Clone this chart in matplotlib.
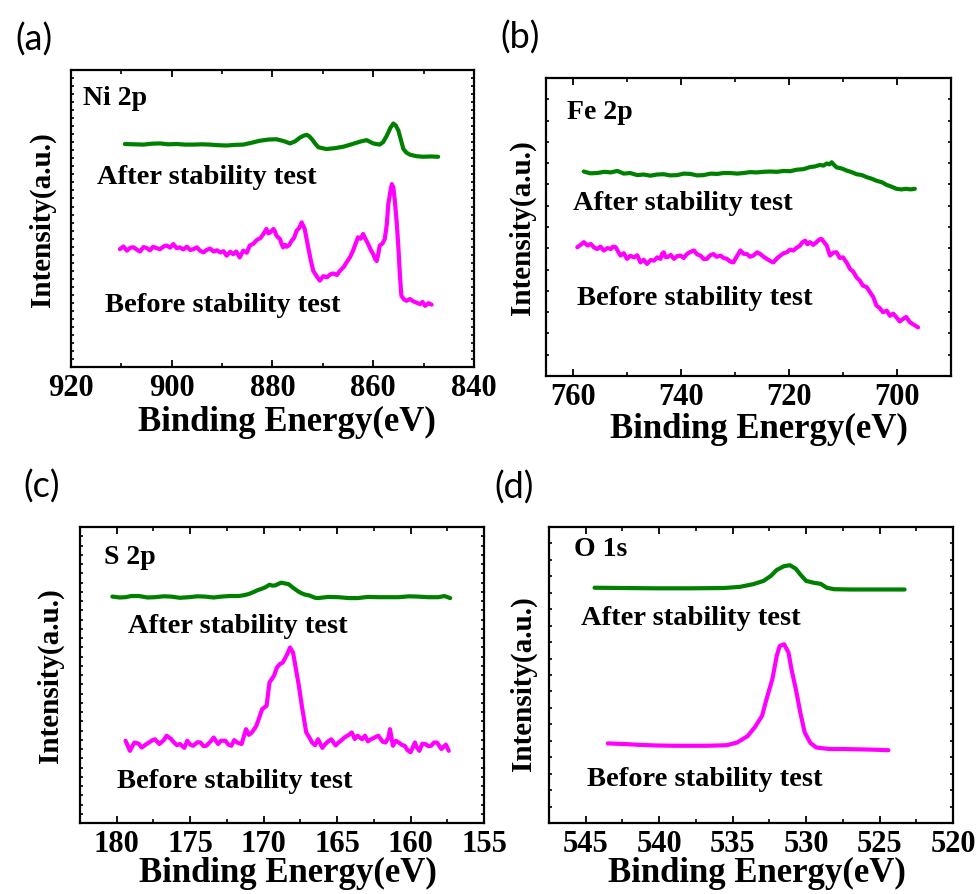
import numpy as np
import matplotlib
matplotlib.use("Agg")
import matplotlib.pyplot as plt
from matplotlib.ticker import MultipleLocator, FixedLocator

# ---------------- data ----------------
# (a) Ni 2p
ni_after_E = [909.3, 907.5, 905.6, 904.0, 902.3, 900.7, 899.0, 897.4, 895.7, 894.0, 892.4, 890.8, 889.1, 887.5,
              885.8, 884.2, 882.5, 880.8, 879.2, 877.8, 876.5, 875.5, 874.5, 873.8, 873.2, 872.7, 872.2, 871.5,
              870.9, 869.3, 867.6, 865.9, 864.3, 862.6, 861.3, 860.0, 858.7, 858.0, 857.3, 856.6, 856.0, 855.5,
              855.0, 854.5, 854.0, 853.4, 852.7, 851.4, 850.1, 848.6, 847.1]
ni_after_I = [75.1, 75.0, 74.9, 75.2, 75.3, 75.0, 75.1, 74.9, 74.9, 75.0, 74.9, 74.7, 74.6, 74.8,
              74.9, 75.5, 76.2, 76.6, 76.7, 76.1, 75.3, 76.0, 77.3, 77.9, 78.2, 77.7, 76.8, 75.2,
              74.0, 73.4, 73.7, 74.2, 75.0, 75.9, 76.4, 75.3, 74.9, 75.8, 77.9, 80.5, 82.0, 81.3,
              79.6, 76.5, 73.4, 72.2, 71.5, 71.0, 70.8, 70.9, 70.8]
ni_before_E = [910.3, 909.6, 908.9, 908.2, 907.6, 906.9, 906.3, 905.6, 905.0, 904.3, 903.7, 903.0, 902.3, 901.6,
               901.0, 900.3, 899.7, 899.0, 898.4, 897.7, 897.0, 896.3, 895.7, 895.0, 894.4, 893.7, 893.1, 892.4,
               891.7, 891.0, 890.4, 889.7, 889.1, 888.4, 887.8, 887.2, 886.5, 886.1, 885.8, 885.1, 884.5, 883.8,
               883.1, 882.4, 881.8, 881.2, 880.8, 880.5, 879.8, 879.5, 879.2, 878.5, 878.2, 877.9, 877.5, 877.2,
               876.7, 876.2, 875.7, 875.2, 874.7, 874.2, 873.6, 872.9, 872.4, 871.9, 871.2, 870.6, 869.9, 869.2,
               868.5, 867.9, 867.2, 866.6, 865.9, 865.3, 864.6, 864.0, 863.5, 863.0, 862.5, 862.0, 861.5, 861.0,
               860.5, 860.0, 859.6, 859.3, 859.0, 858.7, 858.2, 857.7, 857.3, 857.0, 856.6, 856.3, 856.0, 855.7,
               855.3, 855.0, 854.7, 854.4, 853.9, 853.4, 852.7, 852.0, 851.3, 850.7, 850.2, 849.7, 849.0, 848.4]
ni_before_I = [39.7, 40.6, 39.2, 40.2, 40.3, 39.5, 38.9, 40.4, 40.1, 39.3, 40.5, 40.0, 39.7, 40.6,
               40.9, 40.2, 41.4, 40.0, 40.3, 39.6, 40.5, 39.4, 39.7, 40.3, 39.2, 38.6, 39.4, 39.9,
               38.9, 39.3, 38.6, 39.0, 37.5, 38.8, 38.0, 38.9, 36.9, 38.2, 39.2, 38.5, 40.9, 41.5,
               42.8, 43.4, 44.8, 46.5, 45.0, 45.3, 46.5, 45.6, 44.2, 43.1, 41.5, 40.3, 41.2, 40.5,
               41.0, 42.5, 43.5, 45.9, 46.8, 48.7, 46.5, 40.3, 36.0, 32.4, 30.5, 29.1, 30.6, 30.2,
               31.2, 31.5, 31.0, 32.4, 33.6, 35.2, 37.0, 39.2, 41.5, 43.7, 43.2, 44.8, 43.0, 41.4,
               39.5, 38.0, 36.3, 35.7, 38.0, 40.9, 41.5, 43.1, 48.0, 54.9, 59.0, 61.6, 60.5, 56.0,
               48.0, 40.3, 31.0, 24.0, 22.8, 22.3, 22.9, 22.1, 21.6, 21.2, 21.9, 20.6, 21.5, 21.0]

# (b) Fe 2p
fe_after_E = [758.0, 756.8, 755.5, 754.2, 753.0, 751.8, 750.6, 749.4, 748.1, 746.9, 745.7, 744.4, 743.2, 742.0,
              740.7, 739.5, 738.3, 737.0, 735.8, 734.5, 733.3, 732.1, 730.9, 729.6, 728.4, 727.2, 726.0, 724.7,
              723.5, 722.2, 721.0, 719.8, 718.6, 717.3, 716.1, 715.2, 714.3, 713.6, 713.0, 712.5, 712.1, 711.6,
              711.2, 710.2, 709.3, 708.4, 707.5, 706.5, 705.6, 704.7, 703.8, 702.8, 701.9, 701.0, 700.1, 699.2,
              698.3, 697.5, 696.7]
fe_after_I = [68.6, 68.0, 68.1, 68.5, 68.3, 68.8, 67.9, 68.1, 67.4, 67.6, 67.2, 67.6, 67.7, 67.3,
              67.4, 67.9, 67.8, 67.3, 67.4, 67.9, 67.8, 68.1, 68.1, 67.9, 68.1, 68.4, 68.3, 68.5,
              68.6, 68.5, 68.8, 68.7, 69.2, 69.4, 70.1, 70.3, 70.8, 70.6, 71.3, 71.0, 71.7, 70.7,
              70.0, 69.6, 68.9, 68.4, 67.7, 67.4, 66.7, 66.2, 65.5, 65.0, 64.1, 63.5, 62.8, 62.6,
              62.8, 62.6, 62.8]
fe_before_E = [759.2, 758.6, 758.0, 757.3, 756.7, 756.1, 755.5, 754.9, 754.3, 753.6, 753.0, 752.6, 752.1, 751.6,
               751.2, 750.6, 750.0, 749.4, 748.7, 748.1, 747.5, 746.9, 746.3, 745.6, 745.0, 744.4, 743.8, 743.5,
               743.2, 742.9, 742.6, 741.9, 741.3, 740.7, 740.1, 739.5, 738.9, 738.3, 737.6, 737.0, 736.4, 735.8,
               735.2, 734.6, 734.0, 733.4, 732.7, 732.1, 731.5, 730.9, 730.3, 729.7, 729.0, 728.4, 727.8, 727.2,
               726.6, 725.9, 725.3, 724.7, 724.1, 723.5, 722.9, 722.2, 721.6, 721.0, 720.4, 719.8, 719.2, 718.6,
               718.0, 717.5, 717.0, 716.6, 716.1, 715.5, 714.9, 714.4, 714.0, 713.5, 713.0, 712.7, 712.4, 711.8,
               711.2, 710.6, 710.0, 709.3, 708.7, 708.1, 707.5, 706.9, 706.3, 705.6, 705.0, 704.4, 703.8, 703.2,
               702.6, 701.9, 701.3, 700.7, 700.1, 699.5, 698.9, 698.3, 697.6, 696.9, 696.1]
fe_before_I = [43.2, 44.0, 44.9, 43.8, 44.3, 43.1, 42.6, 43.4, 42.1, 42.9, 42.6, 43.4, 43.2, 41.6,
               40.4, 41.2, 39.3, 40.3, 39.8, 40.5, 38.1, 39.0, 37.6, 38.9, 38.7, 39.8, 39.3, 41.0,
               41.5, 40.0, 39.8, 40.6, 39.3, 40.2, 40.4, 39.6, 40.9, 41.6, 42.1, 40.8, 40.4, 39.2,
               39.3, 40.5, 40.9, 40.0, 40.4, 39.6, 39.3, 38.4, 38.1, 40.0, 42.1, 41.0, 40.9, 40.0,
               40.4, 41.5, 40.9, 40.0, 39.3, 38.6, 38.1, 39.5, 40.4, 41.2, 41.5, 42.4, 42.1, 43.0,
               43.7, 44.9, 45.4, 44.2, 44.9, 44.0, 44.9, 45.8, 46.0, 44.9, 43.7, 42.0, 40.4, 41.4,
               41.5, 39.6, 39.8, 38.0, 35.9, 35.0, 33.1, 32.0, 30.3, 29.8, 28.1, 26.5, 23.6, 22.8,
               21.4, 21.9, 20.2, 20.9, 19.7, 18.3, 19.1, 19.8, 18.0, 17.2, 16.3]

# (c) S 2p
s_after_E = [180.3, 179.8, 179.4, 179.0, 178.5, 177.9, 177.4, 176.8, 176.3, 175.7, 175.1, 174.5, 174.0, 173.4,
             172.9, 172.3, 171.7, 171.3, 171.0, 170.7, 170.4, 170.1, 169.9, 169.6, 169.4, 169.2, 169.0, 168.8,
             168.5, 168.3, 168.0, 167.8, 167.6, 167.4, 167.2, 166.9, 166.7, 166.5, 166.3, 165.6, 164.9, 164.2,
             163.6, 162.9, 162.2, 161.5, 160.8, 160.1, 159.5, 158.8, 158.1, 157.7, 157.3]
s_after_I = [76.5, 76.2, 76.3, 76.7, 76.7, 76.2, 76.3, 76.6, 76.5, 76.1, 76.3, 76.6, 76.5, 76.2,
             76.5, 76.7, 76.7, 77.0, 77.4, 78.0, 78.7, 79.2, 79.6, 80.5, 80.2, 80.3, 80.8, 81.2,
             80.9, 80.7, 79.5, 78.8, 78.1, 77.6, 77.2, 76.9, 76.5, 76.1, 76.0, 76.4, 76.3, 76.0,
             76.0, 76.4, 76.3, 76.3, 76.3, 76.6, 76.5, 76.3, 76.3, 76.7, 76.0]
s_before_E = [179.4, 179.1, 178.8, 178.5, 178.3, 178.0, 177.8, 177.6, 177.4, 177.1, 176.8, 176.6, 176.3, 176.1,
              175.9, 175.7, 175.4, 175.2, 175.0, 174.8, 174.5, 174.3, 174.1, 173.9, 173.6, 173.4, 173.1, 172.9,
              172.6, 172.4, 172.2, 172.0, 171.8, 171.5, 171.2, 171.0, 170.8, 170.5, 170.3, 170.1, 169.8, 169.6,
              169.3, 169.1, 168.9, 168.7, 168.4, 168.2, 168.0, 167.8, 167.6, 167.4, 167.1, 166.9, 166.7, 166.5,
              166.3, 166.0, 165.8, 165.6, 165.4, 165.1, 164.9, 164.7, 164.5, 164.2, 164.0, 163.8, 163.6, 163.3,
              163.1, 162.9, 162.7, 162.4, 162.2, 161.9, 161.7, 161.5, 161.4, 161.2, 161.0, 160.8, 160.6, 160.4,
              160.2, 160.0, 159.7, 159.6, 159.4, 159.2, 159.0, 158.8, 158.6, 158.4, 158.2, 158.0, 157.9, 157.6,
              157.4]
s_before_I = [27.8, 24.4, 27.2, 26.8, 25.5, 26.6, 27.2, 27.9, 28.3, 26.7, 28.0, 29.5, 28.4, 27.2,
              26.3, 26.7, 25.4, 27.8, 26.5, 26.1, 27.3, 27.2, 26.0, 26.1, 27.6, 28.9, 26.7, 27.8,
              27.8, 26.5, 26.1, 28.0, 27.2, 26.7, 31.7, 29.8, 30.6, 32.8, 35.6, 38.5, 39.6, 47.5,
              49.7, 52.5, 53.7, 54.2, 57.0, 59.3, 57.6, 52.0, 46.3, 39.6, 30.6, 29.0, 27.2, 26.3,
              28.3, 25.4, 26.7, 27.6, 28.3, 26.2, 27.2, 28.0, 28.9, 29.8, 30.6, 28.4, 29.5, 28.3,
              29.5, 27.6, 28.3, 29.0, 29.5, 27.5, 27.2, 29.0, 31.7, 26.1, 27.8, 27.2, 26.4, 26.1,
              24.6, 23.9, 27.2, 25.8, 24.4, 26.8, 26.7, 26.0, 26.1, 27.2, 27.2, 25.7, 25.0, 26.5,
              24.4]

# (d) O 1s
o_after_E = [544.4, 542.4, 540.2, 537.9, 535.6, 534.5, 533.6, 532.9, 532.4, 532.0, 531.5, 531.1, 530.7, 530.4,
             530.0, 529.5, 529.0, 528.6, 528.1, 527.0, 525.4, 523.3]
o_after_I = [79.5, 79.4, 79.3, 79.3, 79.4, 79.8, 80.7, 81.8, 83.5, 85.5, 86.8, 87.1, 85.9, 84.0,
             81.8, 81.2, 80.8, 79.5, 79.0, 78.9, 78.9, 78.9]
o_before_E = [543.5, 542.4, 541.3, 540.2, 539.0, 537.9, 536.8, 536.0, 535.4, 534.7, 534.0, 533.5, 533.0, 532.7,
              532.3, 532.0, 531.8, 531.5, 531.2, 531.0, 530.7, 530.4, 530.1, 529.7, 529.3, 528.4, 527.5, 526.5,
              525.5, 524.4]
o_before_I = [26.9, 26.7, 26.4, 26.2, 26.1, 26.1, 26.1, 26.2, 26.3, 27.2, 29.3, 32.3, 36.2, 41.8,
              48.6, 56.5, 59.8, 60.4, 57.6, 52.0, 45.2, 37.4, 30.6, 27.0, 25.5, 25.0, 25.0, 24.9,
              24.8, 24.6]

panel_letters = ["(a)", "(b)", "(c)", "(d)"]
element_labels = ["Ni 2p", "Fe 2p", "S 2p", "O 1s"]
after_label = "After stability test"
before_label = "Before stability test"
xlabel = "Binding Energy(eV)"
ylabel = "Intensity(a.u.)"

# ---------------- style ----------------
GREEN = "#008000"
MAGENTA = "#ff00ff"
SERIF = ["Liberation Serif", "DejaVu Serif"]
SANS = ["Lato", "DejaVu Sans"]
plt.rcParams["font.family"] = SERIF
plt.rcParams["font.weight"] = "bold"

fig = plt.figure(figsize=(9.79, 8.95), dpi=100)

panels = [
    dict(rect=[0.0725, 0.5888, 0.4116, 0.3318], xlim=(920, 840), major=20, minor=10, nyt=37,
         after=(ni_after_E, ni_after_I), before=(ni_before_E, ni_before_I),
         el=(0.030, 0.909), af=(0.065, 0.640), bf=(0.084, 0.209),
         lab=(34, 40), xl=(0.536, -0.185), yl=(-0.072, 0.5)),
    dict(rect=[0.5577, 0.5788, 0.4137, 0.3330], xlim=(765, 690), major=20, minor=10, nyt=14,
         after=(fe_after_E, fe_after_I), before=(fe_before_E, fe_before_I),
         el=(0.052, 0.889), af=(0.067, 0.581), bf=(0.077, 0.262),
         lab=(520, 38), xl=(0.525, -0.175), yl=(-0.059, 0.5)),
    dict(rect=[0.0817, 0.0793, 0.4127, 0.3307], xlim=(182.5, 155), major=5, minor=2.5, nyt=32,
         after=(s_after_E, s_after_I), before=(s_before_E, s_before_I),
         el=(0.059, 0.902), af=(0.119, 0.666), bf=(0.092, 0.145),
         lab=(42, 487), xl=(0.515, -0.168), yl=(-0.074, 0.5)),
    dict(rect=[0.5608, 0.0793, 0.4127, 0.3307], xlim=(547.5, 520), major=5, minor=2.5, nyt=18,
         after=(o_after_E, o_after_I), before=(o_before_E, o_before_I),
         el=(0.062, 0.929), af=(0.079, 0.693), bf=(0.094, 0.152),
         lab=(514, 488), xl=(0.515, -0.168), yl=(-0.064, 0.473)),
]

W, H = 979, 895
for i, p in enumerate(panels):
    ax = fig.add_axes(p["rect"])
    ax.plot(p["after"][0], p["after"][1], color=GREEN, lw=3.0, solid_joinstyle="round", solid_capstyle="round")
    ax.plot(p["before"][0], p["before"][1], color=MAGENTA, lw=3.0, solid_joinstyle="round", solid_capstyle="round")
    ax.set_xlim(*p["xlim"])
    ax.set_ylim(0, 100)
    ax.xaxis.set_major_locator(MultipleLocator(p["major"]))
    ax.xaxis.set_minor_locator(MultipleLocator(p["minor"]))
    ax.yaxis.set_major_locator(FixedLocator(np.linspace(0, 100, p["nyt"] + 1)))
    ax.tick_params(axis="x", which="major", direction="in", top=True, bottom=True, length=5, width=1.3,
                   pad=4, labelsize=22)
    ax.tick_params(axis="x", which="minor", direction="in", top=True, bottom=True, length=3, width=1.2)
    ax.tick_params(axis="y", which="major", direction="in", left=True, right=True, length=2.2, width=1.2,
                   labelleft=False)
    for s in ax.spines.values():
        s.set_linewidth(1.6)
    ax.set_xlabel(xlabel, fontsize=25, fontweight="bold")
    ax.xaxis.set_label_coords(*p["xl"])
    ax.xaxis.label.set_va("center")
    ax.set_ylabel(ylabel, fontsize=21, fontweight="bold")
    ax.yaxis.set_label_coords(*p["yl"])
    ax.yaxis.label.set_va("center")
    ax.text(p["el"][0], p["el"][1], element_labels[i], transform=ax.transAxes, fontsize=20,
            fontweight="bold", va="center", ha="left")
    ax.text(p["af"][0], p["af"][1], after_label, transform=ax.transAxes, fontsize=20.5,
            fontweight="bold", va="center", ha="left")
    ax.text(p["bf"][0], p["bf"][1], before_label, transform=ax.transAxes, fontsize=20.5,
            fontweight="bold", va="center", ha="left")
    fig.text(p["lab"][0] / W, 1 - p["lab"][1] / H, panel_letters[i], fontsize=26, family=SANS,
             fontweight="normal", ha="center", va="center")

fig.savefig("out.png", dpi=100)
